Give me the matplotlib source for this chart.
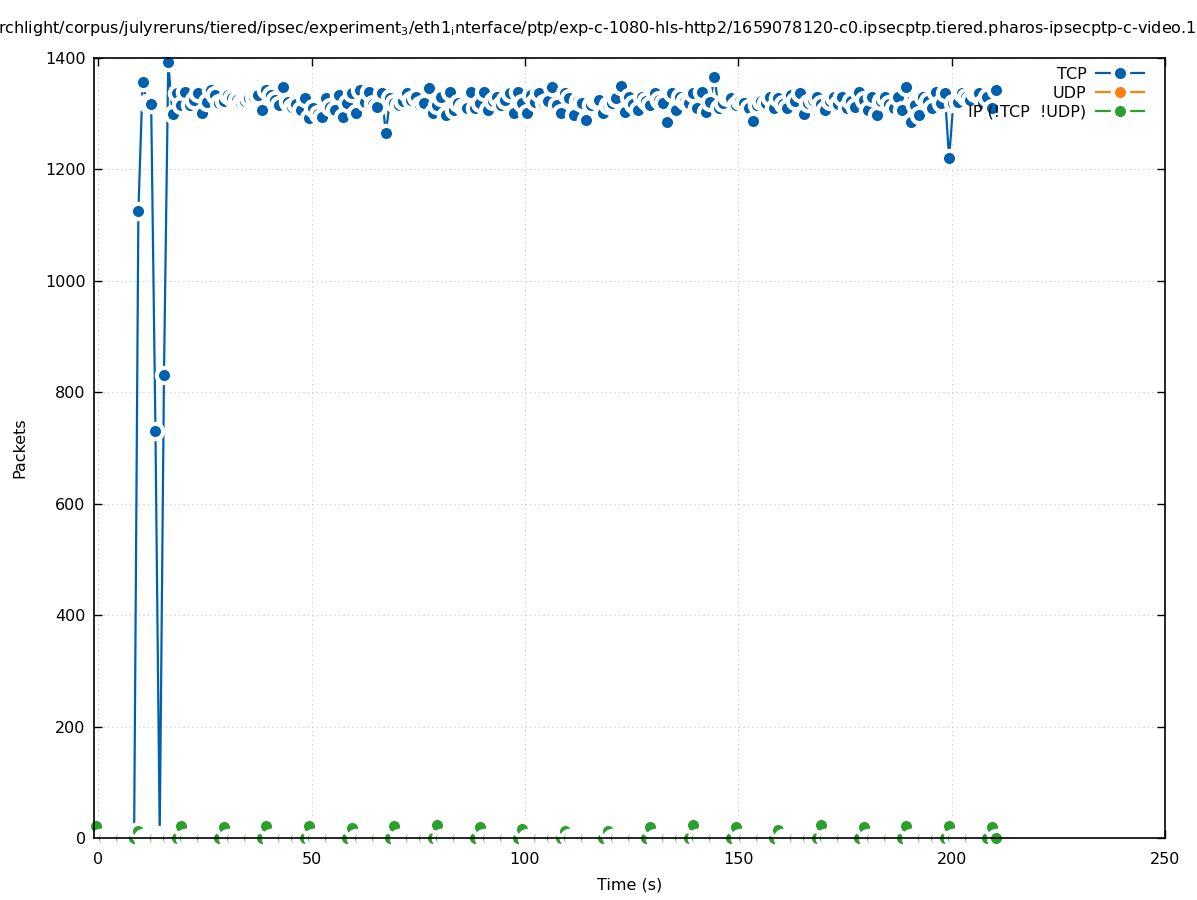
import numpy as np
import matplotlib
matplotlib.use("Agg")
import matplotlib.pyplot as plt

# ---------------- data ----------------
# one sample per second; sample k is plotted at time k + 0.4
tcp_index = list(range(8, 211))
tcp_values = [
    0, 1125,                                                      # 8-9
    1357, 1320, 1317, 731, 5, 831, 1392, 1300, 1337, 1316,        # 10-19
    1339, 1316, 1325, 1337, 1301, 1321, 1343, 1334, 1319, 1322,   # 20-29
    1334, 1328, 1325, 1319, 1322, 1328, 1330, 1334, 1307, 1343,   # 30-39
    1334, 1325, 1316, 1348, 1321, 1312, 1318, 1307, 1328, 1292,   # 40-49
    1310, 1300, 1294, 1328, 1312, 1307, 1334, 1294, 1320, 1337,   # 50-59
    1301, 1343, 1321, 1339, 1318, 1312, 1337, 1265, 1328, 1320,   # 60-69
    1316, 1322, 1337, 1325, 1330, 1316, 1319, 1346, 1301, 1316,   # 70-79
    1330, 1298, 1339, 1307, 1320, 1312, 1310, 1339, 1310, 1320,   # 80-89
    1339, 1307, 1322, 1330, 1316, 1325, 1337, 1301, 1339, 1319,   # 90-99
    1301, 1334, 1321, 1337, 1319, 1322, 1348, 1315, 1301, 1337,   # 100-109
    1328, 1298, 1322, 1319, 1289, 1315, 1325, 1325, 1301, 1315,   # 110-119
    1319, 1328, 1350, 1303, 1330, 1318, 1307, 1330, 1322, 1316,   # 120-129
    1337, 1325, 1320, 1285, 1337, 1307, 1330, 1322, 1319, 1337,   # 130-139
    1310, 1339, 1303, 1321, 1366, 1310, 1320, 1330, 1328, 1315,   # 140-149
    1322, 1319, 1310, 1287, 1315, 1322, 1319, 1330, 1310, 1328,   # 150-159
    1318, 1310, 1334, 1322, 1337, 1300, 1319, 1325, 1330, 1318,   # 160-169
    1307, 1322, 1330, 1318, 1330, 1310, 1322, 1312, 1339, 1325,   # 170-179
    1307, 1330, 1298, 1322, 1330, 1318, 1310, 1330, 1307, 1348,   # 180-189
    1285, 1316, 1298, 1330, 1322, 1310, 1339, 1319, 1337, 1220,   # 190-199
    1320, 1321, 1337, 1330, 1325, 1337, 1337, 1320, 1330, 1310,   # 200-209
    1342,                                                         # 210
]

udp_index = [-1]
udp_values = [0]

ip_index = list(range(-1, 211))
ip_values = [
    21,                                   # -1
    0, 0, 0, 0, 0, 0, 0, 0, 0, 13,        # 0-9
    0, 0, 0, 0, 0, 0, 0, 0, 0, 21,        # 10-19
    0, 0, 0, 0, 0, 0, 0, 0, 0, 20,        # 20-29
    0, 0, 0, 0, 0, 0, 0, 0, 0, 21,        # 30-39
    0, 0, 0, 0, 0, 0, 0, 0, 0, 21,        # 40-49
    0, 0, 0, 0, 0, 0, 0, 0, 0, 18,        # 50-59
    0, 0, 0, 0, 0, 0, 0, 0, 0, 21,        # 60-69
    0, 0, 0, 0, 0, 0, 0, 0, 0, 23,        # 70-79
    0, 0, 0, 0, 0, 0, 0, 0, 0, 20,        # 80-89
    0, 0, 0, 0, 0, 0, 0, 0, 0, 16,        # 90-99
    0, 0, 0, 0, 0, 0, 0, 0, 0, 13,        # 100-109
    0, 0, 0, 0, 0, 0, 0, 0, 0, 13,        # 110-119
    0, 0, 0, 0, 0, 0, 0, 0, 0, 20,        # 120-129
    0, 0, 0, 0, 0, 0, 0, 0, 0, 23,        # 130-139
    0, 0, 0, 0, 0, 0, 0, 0, 0, 20,        # 140-149
    0, 0, 0, 0, 0, 0, 0, 0, 0, 14,        # 150-159
    0, 0, 0, 0, 0, 0, 0, 0, 0, 23,        # 160-169
    0, 0, 0, 0, 0, 0, 0, 0, 0, 20,        # 170-179
    0, 0, 0, 0, 0, 0, 0, 0, 0, 22,        # 180-189
    0, 0, 0, 0, 0, 0, 0, 0, 0, 22,        # 190-199
    0, 0, 0, 0, 0, 0, 0, 0, 0, 20,        # 200-209
    0,                                    # 210
]

time_offset = 0.4
x_ticks = [0, 50, 100, 150, 200, 250]
y_ticks = [0, 200, 400, 600, 800, 1000, 1200, 1400]

title = ("rchlight/corpus/julyreruns/tiered/ipsec/experiment$_3$/eth1$_\\mathrm{i}$nterface/ptp/"
         "exp-c-1080-hls-http2/1659078120-c0.ipsecptp.tiered.pharos-ipsecptp-c-video.1")

# ---------------- style ----------------
plt.rcParams['font.family'] = ['DejaVu Sans']
C_TCP = '#0060ad'
C_UDP = '#ff7f0e'
C_IP = '#2ca02c'

fig = plt.figure(figsize=(11.97, 9.0), dpi=100)
ax = fig.add_axes([94/1197, 62/900, (1165-94)/1197, (838-58)/900])

common = dict(linewidth=1.6, marker='o', markersize=11.0, markeredgecolor='white',
              markeredgewidth=3.0, clip_on=False)
ax.plot(np.array(tcp_index) + time_offset, tcp_values, color=C_TCP, markerfacecolor=C_TCP,
        label='TCP', zorder=3, **common)
ax.plot(np.array(udp_index) + time_offset, udp_values, color=C_UDP, markerfacecolor=C_UDP,
        label='UDP', zorder=4, **common)
ax.plot(np.array(ip_index) + time_offset, ip_values, color=C_IP, markerfacecolor=C_IP,
        label='IP (!TCP  !UDP)', zorder=5, **common)

ax.set_xlim(-1, 250)
ax.set_ylim(0, 1400)
ax.set_xticks(x_ticks)
ax.set_yticks(y_ticks)
ax.tick_params(direction='in', top=True, right=True, length=6, width=1, labelsize=11.5)
ax.tick_params(axis='x', pad=10)
ax.tick_params(axis='y', pad=6)
ax.grid(True, color='#c8c8c8', linestyle=(0, (1, 3)), linewidth=0.8)
ax.set_axisbelow(True)
for s in ax.spines.values():
    s.set_linewidth(1.2)
    s.set_zorder(10)

ax.set_xlabel('Time (s)', fontsize=11.5, labelpad=8)
ax.set_ylabel('Packets', fontsize=11.5, labelpad=13)

fig.text(-0.002, 1 - 29/900, title, ha='left', va='center', fontsize=11.5)

leg = ax.legend(loc='upper right', bbox_to_anchor=(1144/1197, 1 - 67/900),
                bbox_transform=fig.transFigure, frameon=False, markerfirst=False,
                numpoints=1, handlelength=3.0, fontsize=11.5, labelspacing=0.25,
                borderaxespad=0.0, borderpad=0.0, handletextpad=0.6)

fig.savefig('out.png', dpi=100)
